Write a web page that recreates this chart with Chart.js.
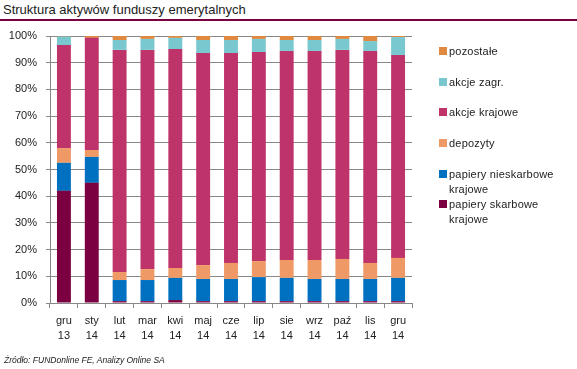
<!DOCTYPE html>
<html>
<head>
<meta charset="utf-8">
<script src="https://cdn.jsdelivr.net/npm/chart.js@4.4.1/dist/chart.umd.min.js"></script>
<style>
  body { margin: 0; background: #fff; font-family: "Liberation Sans", Arial, sans-serif; }
  #wrap { position: relative; width: 577px; height: 369px; overflow: hidden; }
  #title { position: absolute; left: 3px; top: 2px; font-size: 13px; color: #222; }
  #rule { position: absolute; left: 0; top: 19px; width: 577px; height: 2px; background: #7b0041; }
  #src { position: absolute; left: 4px; top: 355px; font-size: 8.5px; font-style: italic; color: #222; }
  #legend { position: absolute; left: 439px; top: 0; font-size: 11px; color: #222; letter-spacing: 0.2px; }
  .item { position: absolute; left: 0; white-space: nowrap; line-height: 15px; }
  .box { position: absolute; left: 0; top: 3px; width: 8px; height: 8px; }
  .txt { position: absolute; left: 10px; top: 0; }
  canvas { position: absolute; left: 0; top: 0; }
</style>
</head>
<body>
<div id="wrap">
  <div id="title">Struktura aktywów funduszy emerytalnych</div>
  <div id="rule"></div>
  <canvas id="myChart" width="577" height="369"></canvas>
  <div id="legend"></div>
  <div id="src">Źródło: FUNDonline FE, Analizy Online SA</div>
</div>
<script>
// categories (month / year)
const months = ["gru", "sty", "lut", "mar", "kwi", "maj", "cze", "lip", "sie", "wrz", "paź", "lis", "gru"];
const years = ["13", "14", "14", "14", "14", "14", "14", "14", "14", "14", "14", "14", "14"];

// shares in %
const skarbowe    = [42.0, 45.0, 0.7, 0.7, 1.1, 0.7, 0.7, 0.7, 0.7, 0.7, 0.7, 0.7, 0.7];
const nieskarbowe = [10.5, 9.7, 7.9, 7.9, 8.3, 8.3, 8.3, 9.0, 8.7, 8.3, 8.3, 8.3, 8.7];
const depozyty    = [5.5, 2.6, 3.0, 4.1, 3.7, 5.2, 6.0, 6.0, 6.7, 7.1, 7.5, 6.0, 7.5];
const krajowe     = [38.6, 42.0, 83.2, 82.1, 82.0, 79.4, 78.6, 78.3, 78.3, 78.3, 78.3, 79.4, 76.0];
const zagr        = [3.2, 0.0, 3.7, 4.1, 4.2, 4.9, 4.9, 4.9, 4.1, 4.1, 4.1, 3.7, 6.7];
const pozostale   = [0.2, 0.7, 1.5, 1.1, 0.7, 1.5, 1.5, 1.1, 1.5, 1.5, 1.1, 1.9, 0.4];

const yTicks = [0, 10, 20, 30, 40, 50, 60, 70, 80, 90, 100];

const labels = months.map((m, i) => [m, years[i]]);
const ctx = document.getElementById('myChart');

const series = [
  { label: "papiery skarbowe\nkrajowe", data: skarbowe, color: "#7b0041" },
  { label: "papiery nieskarbowe\nkrajowe", data: nieskarbowe, color: "#0070c0" },
  { label: "depozyty", data: depozyty, color: "#ee9966" },
  { label: "akcje krajowe", data: krajowe, color: "#bf336b" },
  { label: "akcje zagr.", data: zagr, color: "#79c8d0" },
  { label: "pozostałe", data: pozostale, color: "#df8a40" }
];

const myChart = new Chart(ctx, {
  type: 'bar',
  data: {
    labels: labels,
    datasets: series.map(s => ({
      label: s.label,
      data: s.data,
      backgroundColor: s.color,
      borderWidth: 0,
      barPercentage: 0.5,
      categoryPercentage: 1
    }))
  },
  options: {
    responsive: false,
    animation: false,
    layout: { padding: { left: 0, right: 165, top: 36, bottom: 0 } },
    plugins: { legend: { display: false }, tooltip: { enabled: false } },
    scales: {
      x: {
        stacked: true,
        grid: { drawOnChartArea: false, drawTicks: true, tickLength: 5, offset: true, color: '#888' },
        border: { color: '#888', width: 1 },
        ticks: { color: '#222', font: { family: 'Liberation Sans', size: 11, lineHeight: '15px' }, padding: 5, maxRotation: 0, autoSkip: false },
        afterFit: s => { s.height = 66; }
      },
      y: {
        stacked: true,
        min: 0,
        max: 100,
        afterBuildTicks: s => { s.ticks = yTicks.map(v => ({ value: v })); },
        grid: { color: '#888', lineWidth: 1, tickLength: 4 },
        border: { color: '#888', width: 1 },
        ticks: { color: '#222', font: { family: 'Liberation Sans', size: 11 }, padding: 9, callback: v => v + '%' },
        afterFit: s => { s.width = 50; }
      }
    }
  }
});

// legend on the right, top entry = last series
const legendTops = [44, 75, 105, 136, 167, 197];
const legend = document.getElementById('legend');
series.slice().reverse().forEach((s, i) => {
  const item = document.createElement('div');
  item.className = 'item';
  item.style.top = legendTops[i] + 'px';
  const box = document.createElement('div');
  box.className = 'box';
  box.style.background = s.color;
  const txt = document.createElement('div');
  txt.className = 'txt';
  txt.innerHTML = s.label.replace('\n', '<br>');
  item.appendChild(box);
  item.appendChild(txt);
  legend.appendChild(item);
});
</script>
</body>
</html>
